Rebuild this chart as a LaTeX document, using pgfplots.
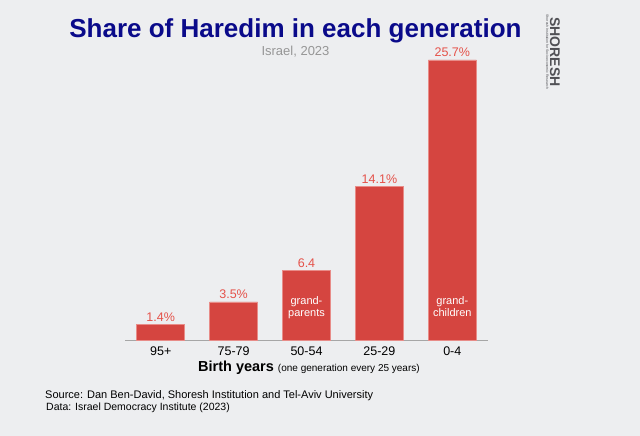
\documentclass[border=0pt]{standalone}
\usepackage{pgfplots}
\pgfplotsset{compat=1.18}
\usepackage{fontspec}
\setmainfont{Liberation Sans}
\definecolor{bg}{RGB}{237,238,240}
\definecolor{barred}{RGB}{213,69,64}
\definecolor{baredge}{RGB}{232,140,136}
\definecolor{labred}{RGB}{229,82,74}
\definecolor{titleblue}{RGB}{10,10,138}
\definecolor{subgray}{RGB}{150,150,150}
\definecolor{logogray}{RGB}{80,80,85}
\begin{document}
\begin{tikzpicture}
\fill[bg] (0,0) rectangle (640bp,436bp);
\useasboundingbox (0,0) rectangle (640bp,436bp);
\begin{axis}[
  at={(125bp,96bp)}, anchor=south west,
  scale only axis, width=363bp, height=280bp,
  xmin=-0.49, xmax=4.49, ymin=0, ymax=25.7,
  ybar, bar width=48bp,
  axis y line=none,
  axis x line*=bottom,
  x axis line style={draw=gray!70, line width=0.8pt},
  xtick={0,1,2,3,4},
  xticklabels={95+,75-79,50-54,25-29,0-4},
  major tick length=0pt,
  xticklabel style={font=\fontsize{12.5bp}{14bp}\selectfont, anchor=base, yshift=-16bp},
  point meta=explicit symbolic,
  nodes near coords,
  nodes near coords style={font=\fontsize{12.5bp}{14bp}\selectfont, text=labred, anchor=base, yshift=3bp, inner sep=0pt},
  clip=false,
]
\addplot[fill=barred, draw=baredge, line width=0.5pt] coordinates {
  (0,1.4) [1.4\%]
  (1,3.5) [3.5\%]
  (2,6.4) [6.4]
  (3,14.1) [14.1\%]
  (4,25.7) [25.7\%]
};
\node[anchor=base, text=white, font=\fontsize{11bp}{12bp}\selectfont] at (axis cs:2,3.3) {grand-};
\node[anchor=base, text=white, font=\fontsize{11bp}{12bp}\selectfont] at (axis cs:2,2.2) {parents};
\node[anchor=base, text=white, font=\fontsize{11bp}{12bp}\selectfont] at (axis cs:4,3.3) {grand-};
\node[anchor=base, text=white, font=\fontsize{11bp}{12bp}\selectfont] at (axis cs:4,2.2) {children};
\end{axis}
\node[anchor=base, text=titleblue, font=\fontsize{26bp}{30bp}\selectfont\bfseries] at (295.5bp,398bp) {Share of Haredim in each generation};
\node[anchor=base, text=subgray, font=\fontsize{13bp}{15bp}\selectfont] at (295.5bp,380bp) {Israel, 2023};
\node[anchor=base west, inner sep=0pt] at (198bp,64bp) {\fontsize{14.5bp}{16bp}\selectfont\bfseries Birth years \fontsize{10bp}{12bp}\selectfont\mdseries(one generation every 25 years)};
\node[anchor=base west, inner sep=0pt, font=\fontsize{11bp}{12bp}\selectfont] at (45bp,38bp) {Source: Dan Ben-David, Shoresh Institution and Tel-Aviv University};
\node[anchor=base west, inner sep=0pt, font=\fontsize{10.5bp}{12bp}\selectfont] at (46bp,26bp) {Data: Israel Democracy Institute (2023)};
\node[rotate=-90, anchor=base, inner sep=0pt, text=logogray, font=\fontsize{14bp}{16bp}\selectfont\bfseries] at (550bp,384bp) {SHORESH};
\node[rotate=-90, anchor=base, inner sep=0pt, text=logogray, font=\fontsize{3.5bp}{4bp}\selectfont] at (546bp,384bp) {Shoresh Institution for Socioeconomic Research};
\end{tikzpicture}
\end{document}
